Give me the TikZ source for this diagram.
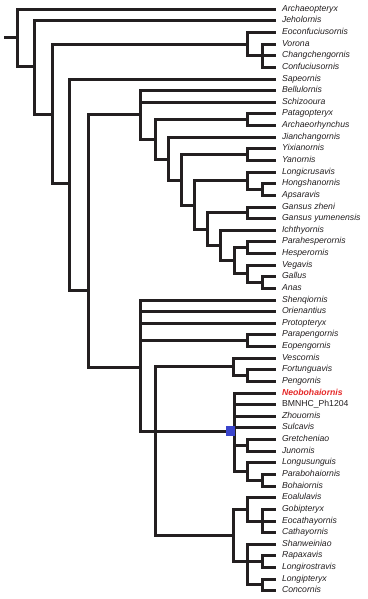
\documentclass[tikz,border=0pt]{standalone}
\usepackage{fontspec}
\setmainfont{Liberation Sans}
\definecolor{branchblack}{RGB}{35,31,32}
\definecolor{nodeblue}{RGB}{58,68,204}
\definecolor{newred}{RGB}{228,40,40}
\newcommand{\labfont}{\fontsize{8.7}{10}\selectfont}

\begin{document}
\begin{tikzpicture}[x=1bp,y=-1bp,
  branch/.style={draw=branchblack,line width=2.8bp,line join=miter},
  taxon/.style={anchor=west,inner xsep=6.5bp,inner ysep=0pt,outer sep=0pt,
    text height=6pt,text depth=1.5pt,text=branchblack,font=\labfont\itshape}]
  \useasboundingbox (0,0) rectangle (367,599);
  % taxa, top to bottom
  \foreach \i/\y/\t in {1/9.5/Archaeopteryx,2/20.5/Jeholornis,3/32.5/Eoconfuciusornis,
      4/44.5/Vorona,5/55.5/Changchengornis,6/67.5/Confuciusornis,7/79.5/Sapeornis,
      8/90.5/Bellulornis,9/102.5/Schizooura,10/113.5/Patagopteryx,
      11/125.5/Archaeorhynchus,12/137.5/Jianchangornis,13/148.5/Yixianornis,
      14/160.5/Yanornis,15/172.5/Longicrusavis,16/183.5/Hongshanornis,
      17/195.5/Apsaravis,18/207.5/Gansus zheni,19/218.5/Gansus yumenensis,
      20/230.5/Ichthyornis,21/241.5/Parahesperornis,22/253.5/Hesperornis,
      23/265.5/Vegavis,24/276.5/Gallus,25/288.5/Anas,26/300.5/Shenqiornis,
      27/311.5/Orienantius,28/323.5/Protopteryx,29/334.5/Parapengornis,
      30/346.5/Eopengornis,31/358.5/Vescornis,32/369.5/Fortunguavis,
      33/381.5/Pengornis,36/416.5/Zhouornis,37/427.5/Sulcavis,
      38/439.5/Gretcheniao,39/451.5/Junornis,40/462.5/Longusunguis,
      41/474.5/Parabohaiornis,42/486.5/Bohaiornis,43/497.5/Eoalulavis,
      44/509.5/Gobipteryx,45/521.5/Eocathayornis,46/532.5/Cathayornis,
      47/544.5/Shanweiniao,48/555.5/Rapaxavis,49/567.5/Longirostravis,
      50/579.5/Longipteryx,51/590.5/Concornis}
    \node[taxon] (l\i) at (275.5,\y) {\t};
  \node[taxon,text=newred,font=\labfont\bfseries\itshape] (l34) at (275.5,393.5) {Neobohaiornis};
  \node[taxon,font=\labfont] (l35) at (275.5,404.5) {BMNHC\_Ph1204};

  % internal nodes
  \coordinate (stub) at (4,37.5);
  \coordinate (root) at (17.5,37.5);
  \coordinate (nA) at (34.5,66.5);
  \coordinate (nB) at (52.5,114.5);
  \coordinate (nConf) at (247.5,44.5);
  \coordinate (nConf2) at (262.5,55.5);
  \coordinate (nC) at (69.5,183.5);
  \coordinate (nD) at (88.5,290.5);
  \coordinate (nOrn) at (140.5,114.5);
  \coordinate (nE) at (155.5,139.5);
  \coordinate (nPat) at (247.5,119.5);
  \coordinate (nF) at (168.5,159.5);
  \coordinate (nG) at (181.5,180.5);
  \coordinate (nYix) at (247.5,154.5);
  \coordinate (nH) at (194.5,205.5);
  \coordinate (nLon) at (247.5,180.5);
  \coordinate (nHon) at (262.5,189.5);
  \coordinate (nI) at (207.5,229.5);
  \coordinate (nGan) at (247.5,212.5);
  \coordinate (nJ) at (220.5,245.5);
  \coordinate (nK) at (234.5,260.5);
  \coordinate (nHes) at (247.5,247.5);
  \coordinate (nVeg) at (247.5,273.5);
  \coordinate (nGal) at (262.5,282.5);
  \coordinate (nEnan) at (140.5,367.5);
  \coordinate (nPen) at (247.5,340.5);
  \coordinate (nP) at (155.5,431.5);
  \coordinate (nVes) at (233.5,366.5);
  \coordinate (nFor) at (247.5,375.5);
  \coordinate (nBoh) at (234.5,431.5);
  \coordinate (nGre) at (247.5,445.5);
  \coordinate (nLgs) at (247.5,471.5);
  \coordinate (nPar) at (262.5,480.5);
  \coordinate (nLong) at (233.5,535.5);
  \coordinate (nEoa) at (247.5,509.5);
  \coordinate (nGob) at (262.5,521.5);
  \coordinate (nSha) at (247.5,561.5);
  \coordinate (nRap) at (262.5,561.5);
  \coordinate (nLgp) at (262.5,584.5);

  % branches
  \draw[branch] (stub) -- (root);
  \foreach \p/\c in {root/l1,root/nA,nA/l2,nA/nB,nB/nConf,nB/nC,
      nConf/l3,nConf/nConf2,nConf2/l4,nConf2/l5,nConf2/l6,
      nC/l7,nC/nD,nD/nOrn,nD/nEnan,
      nOrn/l8,nOrn/l9,nOrn/nE,nE/nPat,nE/nF,nPat/l10,nPat/l11,
      nF/l12,nF/nG,nG/nYix,nG/nH,nYix/l13,nYix/l14,
      nH/nLon,nH/nI,nLon/l15,nLon/nHon,nHon/l16,nHon/l17,
      nI/nGan,nI/nJ,nGan/l18,nGan/l19,nJ/l20,nJ/nK,
      nK/nHes,nK/nVeg,nHes/l21,nHes/l22,nVeg/l23,nVeg/nGal,nGal/l24,nGal/l25,
      nEnan/l26,nEnan/l27,nEnan/l28,nEnan/nPen,nEnan/nP,nPen/l29,nPen/l30,
      nP/nVes,nP/nBoh,nP/nLong,nVes/l31,nVes/nFor,nFor/l32,nFor/l33,
      nBoh/l34,nBoh/l35,nBoh/l36,nBoh/l37,nBoh/nGre,nBoh/nLgs,
      nGre/l38,nGre/l39,nLgs/l40,nLgs/nPar,nPar/l41,nPar/l42,
      nLong/nEoa,nLong/nSha,nEoa/l43,nEoa/nGob,nGob/l44,nGob/l45,nGob/l46,
      nSha/l47,nSha/nRap,nSha/nLgp,nRap/l48,nRap/l49,nLgp/l50,nLgp/l51}
    \draw[branch] (\p) |- (\c);

  % marked node
  \node[fill=nodeblue,minimum width=9bp,minimum height=10.5bp,inner sep=0pt] (mark) at (230.5,431.2) {};
\end{tikzpicture}
\end{document}
